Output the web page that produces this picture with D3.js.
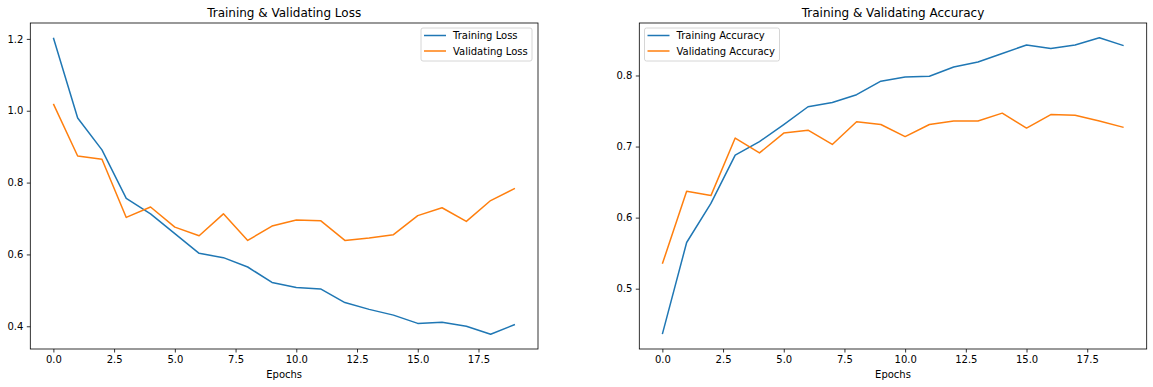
<!DOCTYPE html>
<html>
<head>
<meta charset="utf-8">
<script src="https://cdn.jsdelivr.net/npm/d3@7"></script>
<style>
  body { margin: 0; background: #fff; }
  svg text { font-family: "DejaVu Sans", sans-serif; fill: #000; }
</style>
</head>
<body>
<div id="chart"></div>
<script>
// data
const epochs = d3.range(20);
const trainLoss = [1.203, 0.980, 0.891, 0.756, 0.713, 0.658, 0.603, 0.591, 0.565, 0.522,
  0.508, 0.504, 0.466, 0.447, 0.431, 0.408, 0.411, 0.400, 0.378, 0.405];
const valLoss = [1.019, 0.874, 0.865, 0.703, 0.732, 0.676, 0.652, 0.713, 0.639, 0.679,
  0.696, 0.694, 0.639, 0.646, 0.655, 0.708, 0.730, 0.692, 0.750, 0.784];
const trainAcc = [0.436, 0.565, 0.620, 0.688, 0.707, 0.731, 0.756, 0.762, 0.773, 0.792,
  0.798, 0.799, 0.812, 0.819, 0.831, 0.843, 0.838, 0.843, 0.853, 0.842];
const valAcc = [0.535, 0.637, 0.631, 0.712, 0.691, 0.719, 0.723, 0.703, 0.735, 0.731,
  0.714, 0.731, 0.736, 0.736, 0.747, 0.726, 0.745, 0.744, 0.736, 0.727];
const xTicks = [0, 2.5, 5, 7.5, 10, 12.5, 15, 17.5];
const lossTicks = [0.4, 0.6, 0.8, 1.0, 1.2];
const accTicks = [0.5, 0.6, 0.7, 0.8];

const blue = "#1f77b4", orange = "#ff7f0e";

const svg = d3.select("#chart").append("svg")
  .attr("width", 1153)
  .attr("height", 387);

// matplotlib style 5% margins
function padded(vals) {
  const ext = d3.extent(vals);
  const m = (ext[1] - ext[0]) * 0.05;
  return [ext[0] - m, ext[1] + m];
}

function panel(opts) {
  const x = d3.scaleLinear().domain(padded(epochs)).range([opts.left, opts.right]);
  const y = d3.scaleLinear().domain(padded(opts.series[0].values.concat(opts.series[1].values)))
    .range([349, 23]);

  const g = svg.append("g");

  const line = d3.line().x((d, i) => x(epochs[i])).y(d => y(d));
  opts.series.forEach(s => {
    g.append("path")
      .datum(s.values)
      .attr("fill", "none")
      .attr("stroke", s.color)
      .attr("stroke-width", 1.5)
      .attr("stroke-linejoin", "round")
      .attr("d", line);
  });

  // frame
  g.append("rect")
    .attr("x", opts.left).attr("y", 23)
    .attr("width", opts.right - opts.left).attr("height", 326)
    .attr("fill", "none").attr("stroke", "#000").attr("stroke-width", 0.8);

  const xAxis = g.append("g").attr("transform", "translate(0,349)")
    .call(d3.axisBottom(x).tickValues(xTicks).tickFormat(d3.format(".1f"))
      .tickSize(3.5).tickPadding(3.5));
  const yAxis = g.append("g").attr("transform", `translate(${opts.left},0)`)
    .call(d3.axisLeft(y).tickValues(opts.yTicks).tickFormat(d3.format(".1f"))
      .tickSize(3.5).tickPadding(3.5));
  [xAxis, yAxis].forEach(a => {
    a.select(".domain").remove();
    a.selectAll(".tick line").attr("stroke", "#000").attr("stroke-width", 0.8);
    a.selectAll(".tick text").attr("font-size", 10).attr("fill", "#000")
      .attr("font-family", "DejaVu Sans, sans-serif");
  });

  g.append("text")
    .attr("x", (opts.left + opts.right) / 2).attr("y", 17)
    .attr("text-anchor", "middle").attr("font-size", 12)
    .text(opts.title);

  g.append("text")
    .attr("x", (opts.left + opts.right) / 2).attr("y", 378)
    .attr("text-anchor", "middle").attr("font-size", 10)
    .text("Epochs");

  // legend
  const lg = g.append("g").attr("transform", `translate(${opts.legendX},28)`);
  lg.append("rect")
    .attr("width", opts.legendW).attr("height", 33)
    .attr("rx", 2).attr("fill", "#fff").attr("fill-opacity", 0.8)
    .attr("stroke", "#ccc").attr("stroke-width", 0.8);
  opts.series.forEach((s, i) => {
    const yy = 7.5 + i * 15.5;
    lg.append("line")
      .attr("x1", 3).attr("x2", 25).attr("y1", yy).attr("y2", yy)
      .attr("stroke", s.color).attr("stroke-width", 1.5);
    lg.append("text")
      .attr("x", 32).attr("y", yy + 3.6)
      .attr("font-size", 10)
      .text(s.name);
  });
}

panel({
  left: 30.3, right: 538,
  title: "Training & Validating Loss",
  yTicks: lossTicks,
  legendX: 421, legendW: 111,
  series: [
    { name: "Training Loss", values: trainLoss, color: blue },
    { name: "Validating Loss", values: valLoss, color: orange }
  ]
});

panel({
  left: 639.3, right: 1146.7,
  title: "Training & Validating Accuracy",
  yTicks: accTicks,
  legendX: 644.5, legendW: 135,
  series: [
    { name: "Training Accuracy", values: trainAcc, color: blue },
    { name: "Validating Accuracy", values: valAcc, color: orange }
  ]
});
</script>
</body>
</html>
